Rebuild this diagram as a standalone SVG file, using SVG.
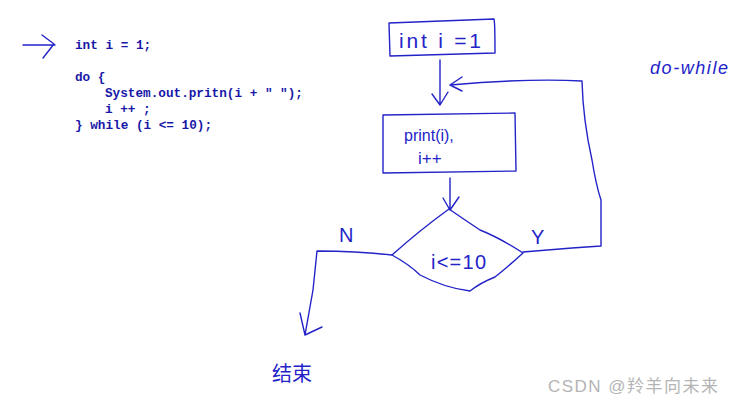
<svg xmlns="http://www.w3.org/2000/svg" width="734" height="407" viewBox="0 0 734 407">
<style>
.code{font-family:"Liberation Mono",monospace;font-size:12.7px;font-weight:bold;fill:#1818a8;white-space:pre}
.ink{fill:none;stroke:#2323c8;stroke-width:1.4;stroke-linecap:round;stroke-linejoin:round}
.hand{font-family:"Liberation Sans","Noto Sans CJK SC",sans-serif;fill:#2323c8}
.wm{font-family:"Liberation Sans","Noto Sans CJK SC",sans-serif;fill:#b4b4b4}
</style>
<rect width="734" height="407" fill="#ffffff"/>
<g id="code">
<path class="ink" d="M23,45 L55,45 M42,35 L54,44 L43,58"/>
<text class="code" x="75" y="49">int i = 1;</text>
<text class="code" x="75" y="81">do {</text>
<text class="code" x="105" y="97">System.out.pritn(i + " ");</text>
<text class="code" x="105" y="113">i ++ ;</text>
<text class="code" x="75" y="129">} while (i &lt;= 10);</text>
</g>
<g id="init">
<path class="ink" d="M389,23 L494,19 Q495,22 495,53 L390,56 Z"/>
<text class="hand" x="399" y="48" font-size="21" textLength="82">int i =1</text>
</g>
<g id="body">
<path class="ink" d="M383,115 L515,113 L516,171 L383,173 Z"/>
<text class="hand" x="404" y="141" font-size="16">print(i),</text>
<text class="hand" x="418" y="164" font-size="17">i++</text>
</g>
<g id="cond">
<path class="ink" d="M449,209 Q420,230 392,255 Q410,265 420,275 Q445,288 470,291 Q480,283 495,277 Q510,265 523,253 Q500,238 480,230 Q462,218 449,209 Z"/>
<text class="hand" x="431" y="269" font-size="20" textLength="55">i&lt;=10</text>
</g>
<g id="end">
<text class="hand" x="272" y="381" font-size="20">结束</text>
</g>
<g id="connectors">
<path class="ink" d="M440,60 L440,104 M432,94 L440,105 L448,92"/>
<path class="ink" d="M450,178 L450,209 M443,198 L450,210 L459,197"/>
<path class="ink" d="M523,252 L572,248 L601,246 L601,200 Q596,185 592,160 Q583,120 582,81 Q530,78 450,85 M462,77 L450,85 L462,91"/>
<path class="ink" d="M392,255 Q355,251 317,251 L313,290 L305,335 M300,313 L305,335 L322,327"/>
</g>
<g id="labels">
<text class="hand" x="339" y="242" font-size="20">N</text>
<text class="hand" x="531" y="244" font-size="20">Y</text>
<text class="hand" x="650" y="74" font-size="18" font-style="italic" textLength="78">do-while</text>
</g>
<text class="wm" x="548" y="392" font-size="17" textLength="170">CSDN @羚羊向未来</text>
</svg>
